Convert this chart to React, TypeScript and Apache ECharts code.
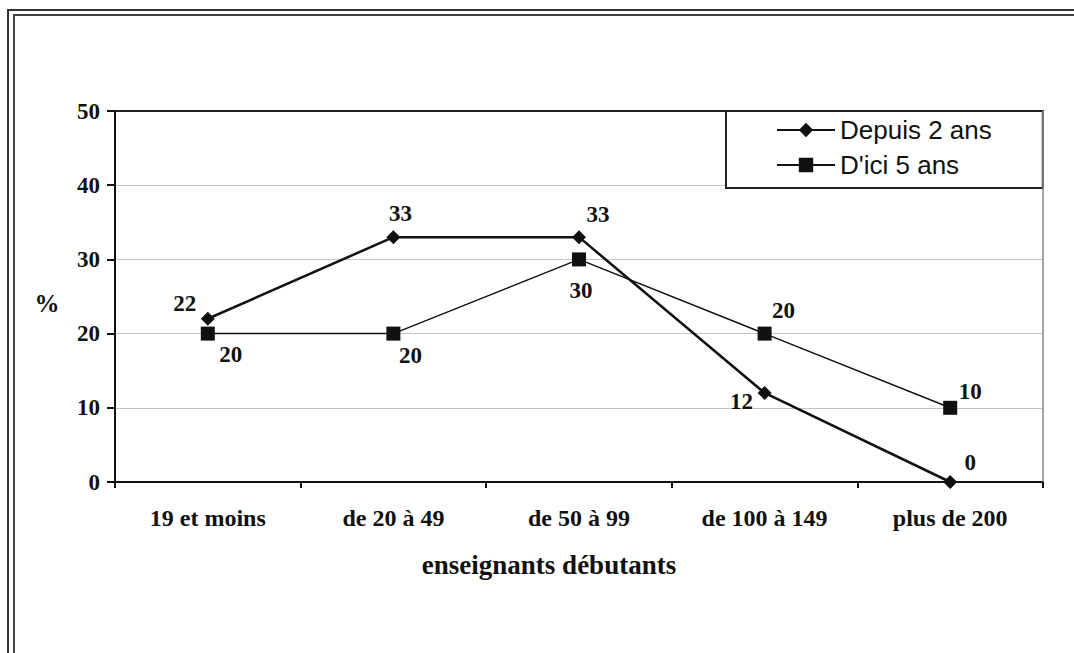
import React, { useEffect, useRef } from "react";
import * as echarts from "echarts";

const categories = ["19 et moins", "de 20 à 49", "de 50 à 99", "de 100 à 149", "plus de 200"];
const depuis2ans = [22, 33, 33, 12, 0];
const dici5ans = [20, 20, 30, 20, 10];
const seriesNames = ["Depuis 2 ans", "D'ici 5 ans"];
const yTicks = [0, 10, 20, 30, 40, 50];
const xAxisTitle = "enseignants débutants";
const yAxisTitle = "%";

// label offsets (style only)
const offsetsA: [number, number][] = [[-23, -15], [7, -24], [19, -23], [-23, 9], [20, -20]];
const offsetsB: [number, number][] = [[23, 21], [17, 22], [2, 31], [19, -23], [20, -16]];

const SERIF = "'Liberation Serif', 'Times New Roman', serif";
const SANS = "'Liberation Sans', Arial, sans-serif";

export default function App() {
  const ref = useRef<HTMLDivElement>(null);
  useEffect(() => {
    if (!ref.current) return;
    const chart = echarts.init(ref.current, null, { renderer: "svg" });
    const labelStyle = {
      show: true,
      position: "inside" as const,
      color: "#111",
      fontFamily: SERIF,
      fontWeight: "bold" as const,
      fontSize: 23,
    };
    const mk = (vals: number[], offs: [number, number][]) =>
      vals.map((v, i) => ({ value: v, label: { ...labelStyle, offset: offs[i] } }));
    chart.setOption({
      animation: false,
      backgroundColor: "#fff",
      grid: { left: 115, right: 31, top: 111, bottom: 171, show: false },
      legend: {
        data: seriesNames,
        orient: "vertical",
        left: 726,
        top: 111,
        itemWidth: 58,
        itemHeight: 18,
        itemGap: 9,
        padding: [6, 51, 10, 50],
        backgroundColor: "#fff",
        borderColor: "#222",
        borderWidth: 2,
        textStyle: { fontFamily: SANS, fontSize: 26, color: "#111" },
      },
      xAxis: {
        type: "category",
        data: categories,
        boundaryGap: true,
        axisLine: { lineStyle: { color: "#111", width: 2 } },
        axisTick: { show: true, length: 6, lineStyle: { color: "#111", width: 2 } },
        axisLabel: {
          margin: 24,
          color: "#111",
          fontFamily: SERIF,
          fontWeight: "bold",
          fontSize: 24,
        },
        splitLine: { show: false },
      },
      yAxis: {
        type: "value",
        min: 0,
        max: 50,
        interval: 10,
        axisLine: { show: true, lineStyle: { color: "#111", width: 2 } },
        axisTick: { show: true, length: 8, lineStyle: { color: "#111", width: 2 } },
        axisLabel: {
          margin: 15,
          color: "#111",
          fontFamily: SERIF,
          fontWeight: "bold",
          fontSize: 23,
          formatter: (v: number) => (yTicks.includes(v) ? String(v) : ""),
        },
        splitLine: { show: true, lineStyle: { color: "#c4c4c4", width: 1 } },
      },
      graphic: [
        { type: "rect", shape: { x: 8, y: 10, width: 1200, height: 800 }, style: { fill: "none", stroke: "#333", lineWidth: 2 }, silent: true },
        { type: "rect", shape: { x: 14, y: 15, width: 1200, height: 800 }, style: { fill: "none", stroke: "#444", lineWidth: 2 }, silent: true },
        { type: "line", shape: { x1: 115, y1: 111, x2: 1043, y2: 111 }, style: { stroke: "#222", lineWidth: 2 }, silent: true, z: 10 },
        { type: "line", shape: { x1: 1043, y1: 111, x2: 1043, y2: 482 }, style: { stroke: "#888", lineWidth: 1.5 }, silent: true, z: 10 },
        {
          type: "text",
          x: 549,
          y: 565,
          style: { text: xAxisTitle, fontFamily: SERIF, fontWeight: "bold", fontSize: 27, fill: "#111", textAlign: "center", textVerticalAlign: "middle" },
        },
        {
          type: "text",
          x: 47,
          y: 303,
          style: { text: yAxisTitle, fontFamily: SERIF, fontWeight: "bold", fontSize: 25, fill: "#111", textAlign: "center", textVerticalAlign: "middle" },
        },
      ],
      series: [
        {
          name: seriesNames[0],
          type: "line",
          data: mk(depuis2ans, offsetsA),
          symbol: "diamond",
          symbolSize: 14,
          itemStyle: { color: "#111" },
          lineStyle: { color: "#111", width: 2.5 },
          z: 3,
        },
        {
          name: seriesNames[1],
          type: "line",
          data: mk(dici5ans, offsetsB),
          symbol: "rect",
          symbolSize: 14,
          itemStyle: { color: "#111" },
          lineStyle: { color: "#111", width: 1.5 },
          z: 2,
        },
      ],
    });
    return () => chart.dispose();
  }, []);
  return (
    <div
      ref={ref}
      style={{ position: "fixed", left: 0, top: 0, width: 1074, height: 653, background: "#fff" }}
    />
  );
}
